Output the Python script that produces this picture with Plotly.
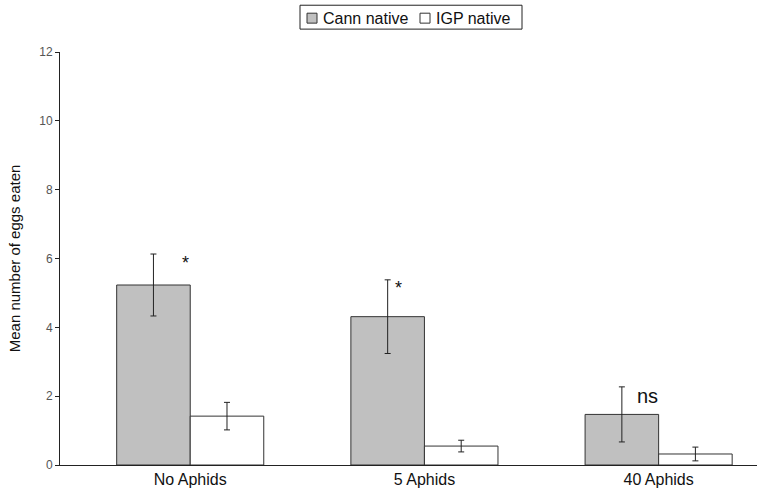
import plotly.graph_objects as go

categories = ["No Aphids", "5 Aphids", "40 Aphids"]
cann_native = [5.23, 4.31, 1.47]
cann_err = [0.9, 1.07, 0.8]
igp_native = [1.42, 0.55, 0.32]
igp_err = [0.4, 0.17, 0.2]

sig_labels = ["*", "*", "ns"]
sig_x = [-0.02, 0.89, 1.953]
sig_y = [5.87, 5.14, 2.0]

series_names = ["Cann native", "IGP native"]
series_fill = ["#c0c0c0", "#ffffff"]
edge = "#333333"

# plot area in pixels, used to place the hand-drawn legend
W, H = 757, 488
L, R, T, B = 60, 0, 52, 21
PW, PH = W - L - R, H - T - B


def px(x):
    return (x - L) / PW


def py(y):
    return (H - B - y) / PH


fig = go.Figure()
fig.add_trace(go.Bar(
    x=categories, y=cann_native, name=series_names[0],
    marker=dict(color=series_fill[0], line=dict(color=edge, width=1)),
    error_y=dict(type="data", array=cann_err, color="#222222", thickness=1, width=3),
))
fig.add_trace(go.Bar(
    x=categories, y=igp_native, name=series_names[1],
    marker=dict(color=series_fill[1], line=dict(color=edge, width=1)),
    error_y=dict(type="data", array=igp_err, color="#222222", thickness=1, width=3),
))

# significance markers
for lab, xv, yv in zip(sig_labels, sig_x, sig_y):
    fig.add_annotation(
        x=xv, y=yv, xref="x", yref="y", text=lab, showarrow=False,
        font=dict(size=20 if lab == "ns" else 18, color="#111111",
                  family="Arial, Liberation Sans, sans-serif"),
    )

# legend box drawn as shapes + text
shapes = [dict(type="rect", xref="paper", yref="paper",
               x0=px(300), x1=px(522), y0=py(29), y1=py(5),
               line=dict(color="#222222", width=1), fillcolor="white")]
sq_x = [307, 420]
txt_x = [321, 434]
for name, fill, sx, tx in zip(series_names, series_fill, sq_x, txt_x):
    shapes.append(dict(type="rect", xref="paper", yref="paper",
                       x0=px(sx), x1=px(sx + 10), y0=py(23), y1=py(13),
                       line=dict(color=edge, width=1), fillcolor=fill))
    fig.add_annotation(
        x=px(tx), y=py(18), xref="paper", yref="paper", text=name,
        showarrow=False, xanchor="left", yanchor="middle",
        font=dict(size=16, color="#111111", family="Arial, Liberation Sans, sans-serif"),
    )

fig.update_layout(
    width=W, height=H,
    margin=dict(l=L, r=R, t=T, b=B),
    paper_bgcolor="white", plot_bgcolor="white",
    barmode="group", bargap=0.372, bargroupgap=0,
    font=dict(family="Arial, Liberation Sans, sans-serif", color="#222222"),
    showlegend=False,
    shapes=shapes,
    xaxis=dict(
        range=[-0.556, 2.42], showline=True, linecolor="#222222", linewidth=1,
        ticks="", tickfont=dict(size=16, color="#111111"), showgrid=False,
    ),
    yaxis=dict(
        range=[0, 12], dtick=2, showline=True, linecolor="#222222", linewidth=1,
        ticks="outside", ticklen=4, tickcolor="#222222",
        tickfont=dict(size=12, color="#555555"), showgrid=False, zeroline=False,
        title=dict(text="Mean number of eggs eaten",
                   font=dict(size=15, color="#111111"), standoff=14),
    ),
)

fig.write_html("out.html")
